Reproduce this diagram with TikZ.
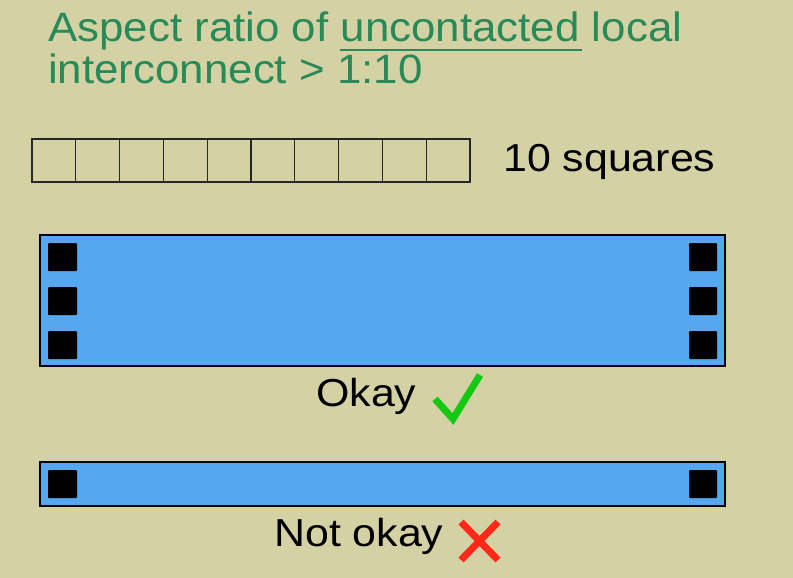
\documentclass[tikz,border=0pt]{standalone}
\usepackage{fontspec}
\setmainfont{Liberation Sans}
\newfontfamily\titlefont[FakeStretch=1.07]{Liberation Sans}
\newfontfamily\bodyfont[FakeStretch=1.10]{Liberation Sans}
\definecolor{bgc}{RGB}{212,210,164}
\definecolor{titlegreen}{RGB}{40,138,88}
\definecolor{wireblue}{RGB}{85,168,240}
\definecolor{okgreen}{RGB}{20,200,20}
\definecolor{badred}{RGB}{255,40,25}
\begin{document}
\begin{tikzpicture}[x=1pt,y=-1pt,
  titletext/.style={anchor=base west,inner sep=0pt,text=titlegreen,font=\titlefont\fontsize{41}{41}\selectfont},
  bodytext/.style={anchor=base west,inner sep=0pt,text=black,font=\bodyfont\fontsize{39}{39}\selectfont},
  cell/.style={draw=black!85,line width=1.2pt},
  wire/.style={draw=black,fill=wireblue,line width=1.5pt},
  contact/.style={fill=black,rounded corners=1pt},
  verdict/.style={line width=7pt}]
\fill[bgc] (0,0) rectangle (793,578);
\useasboundingbox (0,0) rectangle (793,578);
% title
\node[titletext] (t1) at (48,42) {Aspect ratio of uncontacted local};
\node[titletext] (t2) at (48,84) {interconnect > 1:10};
\coordinate (ul1) at (340,50.5);
\coordinate (ul2) at (582,50.5);
\draw[titlegreen,line width=2pt] (ul1) -- (ul2);
% ten squares
\foreach \i in {0,...,9}{
  \draw[cell] ({32+43.8*\i},139) rectangle ({32+43.8*(\i+1)},182);
}
\node[bodytext] (sq) at (503,171) {10 squares};
% okay wire
\draw[wire] (40,235) rectangle (725,366);
\foreach \y in {243,287,331}{
  \fill[contact] (48,\y) rectangle (77,\y+28);
  \fill[contact] (689,\y) rectangle (717,\y+28);
}
\node[bodytext] (ok) at (316,406) {Okay};
\coordinate (c1) at (435,399);
\coordinate (c2) at (453,419);
\coordinate (c3) at (480,375);
\draw[okgreen,verdict,line cap=butt,line join=miter] (c1) -- (c2) -- (c3);
% not okay wire
\draw[wire] (40,462) rectangle (725,506);
\fill[contact] (48,470) rectangle (77,498);
\fill[contact] (689,470) rectangle (717,498);
\node[bodytext] (nok) at (274,546) {Not okay};
\coordinate (x1) at (461,522);
\coordinate (x2) at (498,560);
\coordinate (x3) at (498,522);
\coordinate (x4) at (461,560);
\draw[badred,verdict] (x1) -- (x2) (x3) -- (x4);
\end{tikzpicture}
\end{document}
